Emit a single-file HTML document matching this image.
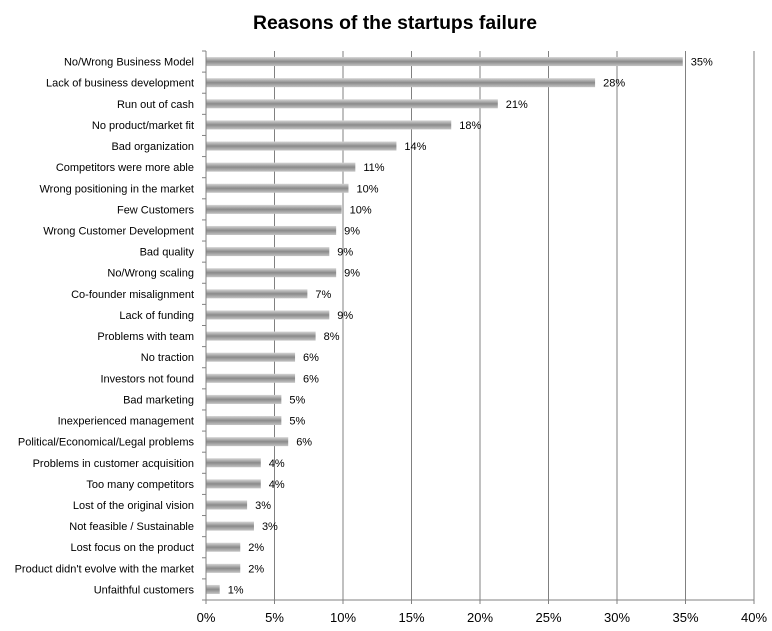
<!DOCTYPE html>
<html><head><meta charset="utf-8"><style>
body{margin:0;background:#fff;}
svg{display:block;font-family:"Liberation Sans",sans-serif;}
</style></head><body>
<svg id="chart" width="772" height="631" viewBox="0 0 772 631">
<defs><linearGradient id="g" x1="0" y1="0" x2="0" y2="1">
<stop offset="0" stop-color="#d6d6d6"/><stop offset="0.5" stop-color="#8a8a8a"/><stop offset="1" stop-color="#c4c4c4"/></linearGradient></defs>
<text x="395" y="29" text-anchor="middle" font-size="19" font-weight="bold" fill="#000" textLength="284" lengthAdjust="spacingAndGlyphs">Reasons of the startups failure</text>
<g id="grid"></g><g id="bars"></g><g id="axes"></g>
</svg>
<script>
const categories=["No/Wrong Business Model","Lack of business development","Run out of cash","No product/market fit","Bad organization","Competitors were more able","Wrong positioning in the market","Few Customers","Wrong  Customer Development","Bad quality","No/Wrong scaling","Co-founder misalignment","Lack of funding","Problems with team","No traction","Investors not found","Bad marketing ","Inexperienced management","Political/Economical/Legal problems","Problems in customer acquisition","Too many competitors","Lost of the original vision","Not feasible / Sustainable ","Lost focus on the product","Product didn't evolve with the market","Unfaithful customers"];
const values=[34.8,28.4,21.3,17.9,13.9,10.9,10.4,9.9,9.5,9.0,9.5,7.4,9.0,8.0,6.5,6.5,5.5,5.5,6.0,4.0,4.0,3.0,3.5,2.5,2.5,1.0];
const valueLabels=["35%","28%","21%","18%","14%","11%","10%","10%","9%","9%","9%","7%","9%","8%","6%","6%","5%","5%","6%","4%","4%","3%","3%","2%","2%","1%"];
const xTicks=[0,5,10,15,20,25,30,35,40];
const NS="http://www.w3.org/2000/svg";
const x0=206,x1=754,yTop=51,yBottom=600,xMax=40;
const xs=v=>x0+(x1-x0)*v/xMax;
const step=(yBottom-yTop)/categories.length;
const yc=i=>yTop+step*(i+0.5);
function mk(tag,attrs,parent){const e=document.createElementNS(NS,tag);for(const k in attrs)e.setAttribute(k,attrs[k]);parent.appendChild(e);return e;}
const grid=document.getElementById('grid'),bars=document.getElementById('bars'),axes=document.getElementById('axes');
xTicks.forEach(t=>{
 if(t>0){const l=mk('line',{x1:xs(t),x2:xs(t),y1:yTop,y2:yBottom,stroke:'#808080','stroke-width':1},grid);
 
 }
 const tx=mk('text',{x:xs(t),y:yBottom+22,'text-anchor':'middle','font-size':13,fill:'#000'},axes);
 tx.textContent=t+'%';
 
 
 mk('line',{x1:xs(t),x2:xs(t),y1:yBottom,y2:yBottom+4,stroke:'#808080'},axes);
});
categories.forEach((c,i)=>{
 const y=yc(i);
 const r=mk('rect',{x:x0,y:y-4.5,width:xs(values[i])-x0,height:9,fill:'url(#g)'},bars);
 
 
 const v=mk('text',{x:xs(values[i])+8,y:y+4,'font-size':11,fill:'#000'},bars);
 v.textContent=valueLabels[i];
 
 
 const l=mk('text',{x:194,y:y+4,'text-anchor':'end','font-size':11,fill:'#000'},axes);
 l.textContent=c;
 
 
});
for(let i=0;i<=categories.length;i++){mk('line',{x1:x0-4,x2:x0,y1:yTop+step*i,y2:yTop+step*i,stroke:'#808080'},axes);}
const ya=mk('line',{x1:x0,x2:x0,y1:yTop,y2:yBottom,stroke:'#808080'},axes);


const xa=mk('line',{x1:x0,x2:x1,y1:yBottom,y2:yBottom,stroke:'#808080'},axes);


</script>
</body></html>
